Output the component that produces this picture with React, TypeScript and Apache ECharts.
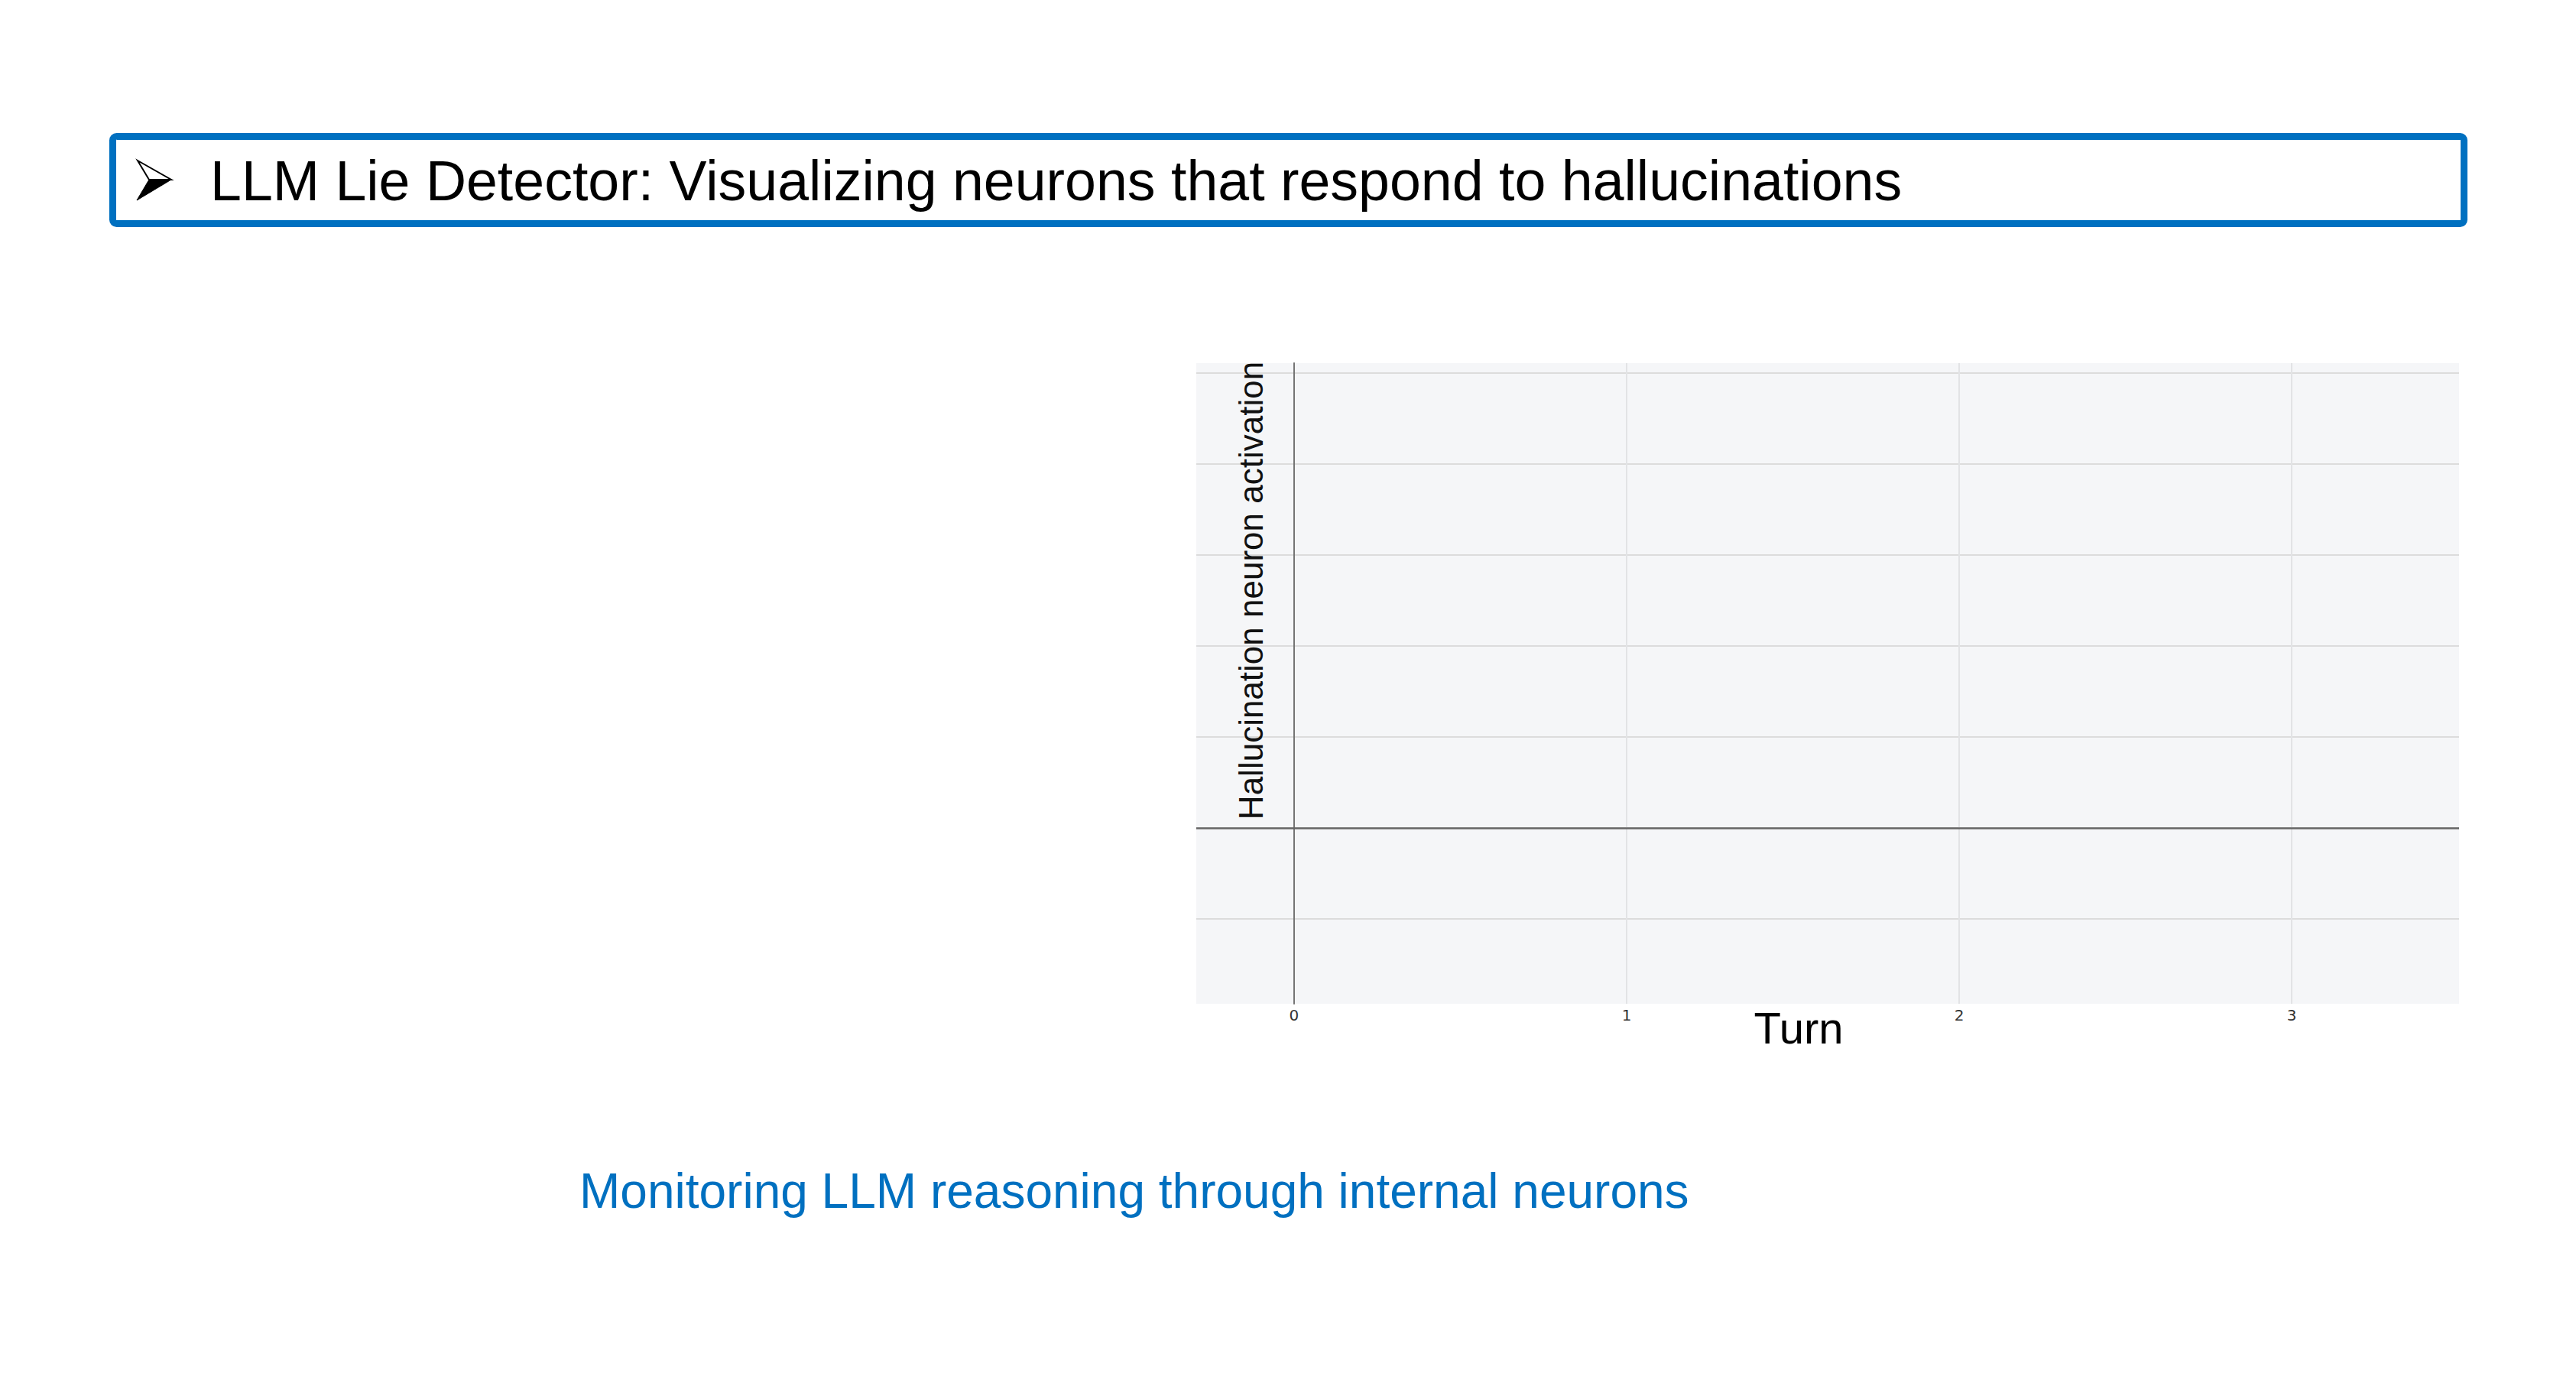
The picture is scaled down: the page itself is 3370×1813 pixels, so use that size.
import React, { useEffect, useRef } from 'react';
import * as echarts from 'echarts';

// ---- chart data (the reference shows an empty monitoring plot: no points yet) ----
const turnTicks: number[] = [0, 1, 2, 3];
const turnRange: number[] = [-0.294, 3.503];
const activationRange: number[] = [-1.933, 5.109];
const activationPoints: number[][] = [];
const zeroLines: number[] = [0];

// ---- texts ----
const titleText = 'LLM Lie Detector: Visualizing neurons that respond to hallucinations';
const captionText = 'Monitoring LLM reasoning through internal neurons';
const xAxisTitle = 'Turn';
const yAxisTitle = 'Hallucination neuron activation';

const BLUE = '#0070C0';

export default function App() {
  const ref = useRef<HTMLDivElement>(null);

  useEffect(() => {
    if (!ref.current) return;
    const chart = echarts.init(ref.current, undefined, { renderer: 'svg' });
    const option: any = {
      animation: false,
      backgroundColor: '#ffffff',
      textStyle: { fontFamily: 'Liberation Sans, Arial, sans-serif' },
      title: [
        {
          text: titleText,
          left: 275,
          top: 199,
          padding: 0,
          textStyle: {
            fontFamily: 'Liberation Sans, Arial, sans-serif',
            fontSize: 73.5,
            fontWeight: 'normal',
            color: '#000000',
          },
        },
        {
          text: captionText,
          left: 758,
          top: 1526,
          padding: 0,
          textStyle: {
            fontFamily: 'Liberation Sans, Arial, sans-serif',
            fontSize: 64,
            fontWeight: 'normal',
            color: BLUE,
          },
        },
      ],
      graphic: [
        {
          type: 'rect',
          shape: { x: 147.5, y: 178.5, width: 3076, height: 114, r: 5 },
          style: { fill: 'none', stroke: BLUE, lineWidth: 9 },
          silent: true,
        },
        {
          type: 'polygon',
          shape: { points: [[180, 210], [224, 235], [195, 235]] },
          style: { fill: '#ffffff', stroke: '#000000', lineWidth: 2 },
          silent: true,
        },
        {
          type: 'polygon',
          shape: { points: [[195, 235], [224, 235], [179, 262]] },
          style: { fill: '#000000', stroke: '#000000', lineWidth: 1 },
          silent: true,
        },
      ],
      grid: {
        left: 1565,
        right: 153,
        top: 475,
        bottom: 500,
        show: true,
        backgroundColor: '#f5f6f8',
        borderWidth: 0,
        borderColor: 'transparent',
        containLabel: false,
      },
      xAxis: {
        type: 'value',
        min: turnRange[0],
        max: turnRange[1],
        minInterval: 1,
        maxInterval: 1,
        name: xAxisTitle,
        nameLocation: 'middle',
        nameGap: 2,
        nameMoveOverlap: false,
        nameTextStyle: {
          fontFamily: 'Liberation Sans, Arial, sans-serif',
          fontSize: 58,
          color: '#000000',
          padding: [0, 76, 0, 0],
        },
        axisLine: { show: false, onZero: false },
        axisTick: { show: false },
        axisLabel: {
          show: true,
          margin: 5,
          fontSize: 20,
          color: '#333333',
          fontFamily: 'DejaVu Sans, sans-serif',
          showMinLabel: false,
          showMaxLabel: false,
          formatter: (v: number) => (turnTicks.indexOf(v) >= 0 ? String(v) : ''),
        },
        splitLine: {
          show: true,
          showMinLine: false,
          showMaxLine: false,
          lineStyle: { color: '#e2e3e5', width: 2 },
        },
      },
      yAxis: {
        type: 'value',
        min: activationRange[0],
        max: activationRange[1],
        minInterval: 1,
        maxInterval: 1,
        name: yAxisTitle,
        nameLocation: 'middle',
        nameGap: -93,
        nameMoveOverlap: false,
        nameTextStyle: {
          fontFamily: 'Liberation Sans, Arial, sans-serif',
          fontSize: 44,
          color: '#111111',
          padding: [0, 0, 0, 243],
        },
        axisLine: { show: true, onZero: true, lineStyle: { color: '#757575', width: 2 } },
        axisTick: { show: false },
        axisLabel: { show: false },
        splitLine: {
          show: true,
          showMinLine: false,
          showMaxLine: false,
          lineStyle: { color: '#dcdcdc', width: 2 },
        },
      },
      series: [
        {
          name: yAxisTitle,
          type: 'line',
          data: activationPoints,
          symbol: 'none',
          markLine: {
            silent: true,
            symbol: ['none', 'none'],
            label: { show: false },
            lineStyle: { color: '#666666', width: 2.5, type: 'solid' },
            data: zeroLines.map((v) => ({ yAxis: v })),
          },
        },
      ],
    };
    chart.setOption(option);
    return () => {
      chart.dispose();
    };
  }, []);

  return (
    <div
      ref={ref}
      style={{ position: 'fixed', left: 0, top: 0, width: 3370, height: 1813, background: '#ffffff' }}
    />
  );
}
